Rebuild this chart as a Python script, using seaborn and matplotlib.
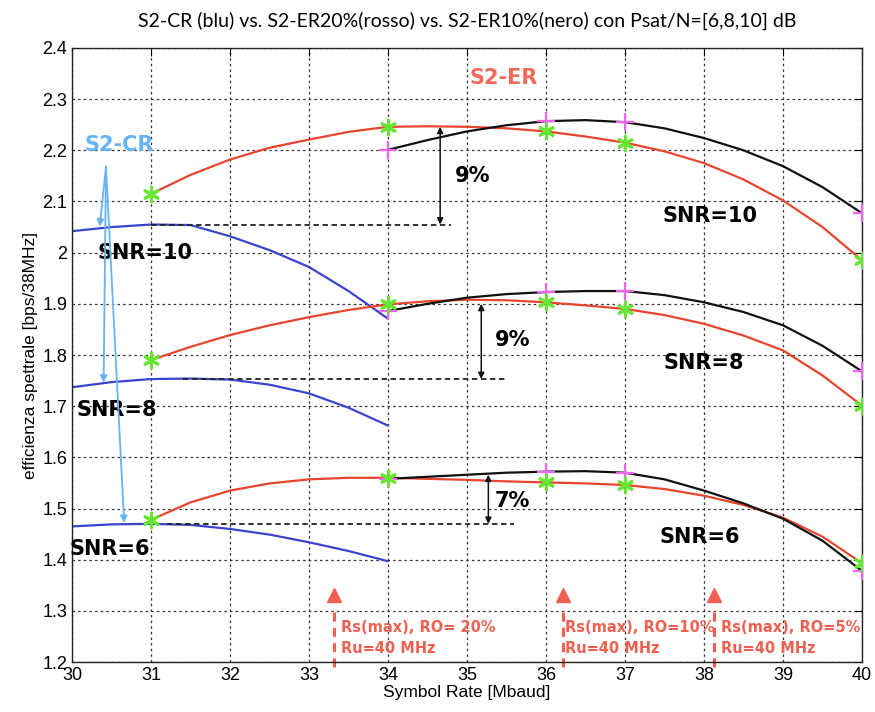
import numpy as np
import pandas as pd
import matplotlib
matplotlib.use("Agg")
import matplotlib.pyplot as plt
import seaborn as sns

sns.set_style("white")
plt.rcParams.update({"text.color": "black", "axes.labelcolor": "black",
                     "xtick.color": "black", "ytick.color": "black"})

# curve readings (x in Mbaud, y in bps/38MHz)
x_er = [31, 31.5, 32, 32.5, 33, 33.5, 34, 34.5, 35, 35.5, 36, 36.5, 37, 37.5, 38, 38.5, 39, 39.5, 40]
x_er10 = [34, 34.5, 35, 35.5, 36, 36.5, 37, 37.5, 38, 38.5, 39, 39.5, 40]
x_cr = [30, 30.5, 31, 31.5, 32, 32.5, 33, 33.5, 34]

red10 = [2.115, 2.152, 2.182, 2.205, 2.221, 2.236, 2.246, 2.247, 2.246, 2.243, 2.237, 2.227, 2.215, 2.198, 2.175, 2.143, 2.102, 2.050, 1.985]
red8 = [1.790, 1.816, 1.839, 1.858, 1.874, 1.888, 1.899, 1.905, 1.908, 1.907, 1.903, 1.897, 1.890, 1.878, 1.861, 1.838, 1.809, 1.760, 1.701]
red6 = [1.478, 1.512, 1.535, 1.549, 1.557, 1.560, 1.560, 1.558, 1.556, 1.553, 1.551, 1.549, 1.546, 1.538, 1.525, 1.507, 1.482, 1.445, 1.393]

black10 = [2.201, 2.220, 2.237, 2.249, 2.257, 2.259, 2.255, 2.243, 2.224, 2.200, 2.169, 2.128, 2.077]
black8 = [1.886, 1.900, 1.912, 1.919, 1.923, 1.925, 1.925, 1.917, 1.903, 1.884, 1.858, 1.818, 1.768]
black6 = [1.558, 1.562, 1.566, 1.570, 1.572, 1.573, 1.570, 1.557, 1.535, 1.510, 1.480, 1.437, 1.378]

blue10 = [2.042, 2.050, 2.055, 2.054, 2.032, 2.005, 1.972, 1.925, 1.871]
blue8 = [1.737, 1.747, 1.753, 1.754, 1.752, 1.742, 1.725, 1.697, 1.662]
blue6 = [1.465, 1.469, 1.470, 1.468, 1.460, 1.449, 1.434, 1.417, 1.397]

marks_er = [31, 34, 36, 37, 40]
marks_er10 = [34, 36, 37, 40]

rows = []
for snr, r, b, k in [(10, red10, blue10, black10), (8, red8, blue8, black8), (6, red6, blue6, black6)]:
    rows += [("ER20", snr, x, y) for x, y in zip(x_er, r)]
    rows += [("CR", snr, x, y) for x, y in zip(x_cr, b)]
    rows += [("ER10", snr, x, y) for x, y in zip(x_er10, k)]
df = pd.DataFrame(rows, columns=["sys", "snr", "rs", "eff"])
df["curve"] = df["sys"] + "_" + df["snr"].astype(str)

pal = {}
for s in [10, 8, 6]:
    pal[f"ER20_{s}"] = "#e8452e"
    pal[f"CR_{s}"] = "#3a44cc"
    pal[f"ER10_{s}"] = "#111111"

fig = plt.figure(figsize=(8.75, 7.12), dpi=100)
ax = fig.add_axes([0.0823, 0.0702, 0.9029, 0.8624])

sns.lineplot(data=df, x="rs", y="eff", hue="curve", palette=pal, sort=False,
             estimator=None, linewidth=1.6, legend=False, ax=ax)

green = df[(df.sys == "ER20") & df.rs.isin(marks_er)]
magenta = df[(df.sys == "ER10") & df.rs.isin(marks_er10)]
sns.scatterplot(data=magenta, x="rs", y="eff", marker="+", s=150, color="#ee66ee",
                linewidth=1.6, ax=ax, zorder=5)
sns.scatterplot(data=green, x="rs", y="eff", marker=(6, 2, 0), s=110, color="#66e633",
                linewidth=2.2, ax=ax, zorder=6)

# percent gap markers
gaps = [(10, 34.66, 2.246, 2.055, 31.0, 34.8, "9%", 34.85, 2.15),
        (8, 35.18, 1.900, 1.753, 31.4, 35.5, "9%", 35.35, 1.83),
        (6, 35.27, 1.566, 1.470, 31.2, 35.6, "7%", 35.35, 1.515)]
for snr, xa, ytop, ybot, x0, x1, lab, xt, yt in gaps:
    ax.plot([x0, x1], [ybot, ybot], color="#222222", ls=(0, (3, 2)), lw=1.3)
    ax.annotate("", xy=(xa, ybot), xytext=(xa, ytop),
                arrowprops=dict(arrowstyle="<|-|>", color="#111111", lw=1.1,
                                mutation_scale=9, shrinkA=0, shrinkB=0))
    ax.text(xt, yt, lab, fontsize=15, fontweight="bold", family="DejaVu Sans",
            va="center", ha="left")

snr_labels = [("SNR=10", 30.92, 2.0), ("SNR=8", 30.57, 1.693), ("SNR=6", 30.48, 1.421),
              ("SNR=10", 38.08, 2.072), ("SNR=8", 37.99, 1.785), ("SNR=6", 37.95, 1.445)]
for t, x, y in snr_labels:
    ax.text(x, y, t, fontsize=15, fontweight="bold", family="DejaVu Sans",
            ha="center", va="center")

ax.text(30.6, 2.21, "S2-CR", color="#66b3f5", fontsize=15, fontweight="bold",
        family="DejaVu Sans", ha="center", va="center")
ax.text(35.46, 2.341, "S2-ER", color="#ee6a5a", fontsize=15, fontweight="bold",
        family="DejaVu Sans", ha="center", va="center")

for xe, ye in [(30.35, 2.051), (30.4, 1.746), (30.66, 1.472)]:
    ax.annotate("", xy=(xe, ye), xytext=(30.43, 2.168),
                arrowprops=dict(arrowstyle="-|>", color="#66b3f5", lw=1.3,
                                mutation_scale=10, shrinkA=0, shrinkB=0))

# max symbol rate markers
rs_max = [(33.31, "Rs(max), RO= 20%", 33.4), (36.22, "Rs(max), RO=10%", 36.24), (38.13, "Rs(max), RO=5%", 38.22)]
for xm, lab, xt in rs_max:
    ax.plot([xm, xm], [1.19, 1.31], color="#f06050", ls=(0, (3, 2)), lw=2.2, clip_on=False)
    ax.plot([xm], [1.33], marker="^", ms=10, color="#f06050", mec="#f06050")
    ax.text(xt, 1.268, lab, color="#f06050", fontsize=10.5, fontweight="bold",
            family="DejaVu Sans", va="center", ha="left")
    ax.text(xt, 1.227, "Ru=40 MHz", color="#f06050", fontsize=10.5, fontweight="bold",
            family="DejaVu Sans", va="center", ha="left")

ax.set_xlim(30, 40)
ax.set_ylim(1.2, 2.4)
ax.set_xticks(np.arange(30, 41, 1))
ax.set_yticks(np.round(np.arange(1.2, 2.41, 0.1), 1))
ax.set_yticklabels([f"{v:g}" for v in np.round(np.arange(1.2, 2.41, 0.1), 1)])
ax.grid(True, linestyle=(0, (2, 2.5)), color="#333333", linewidth=0.9)
ax.tick_params(direction="in", top=True, right=True, length=6, labelsize=13)
for lbl in ax.get_xticklabels() + ax.get_yticklabels():
    lbl.set_family("Liberation Sans")
for sp in ax.spines.values():
    sp.set_color("#222222")
    sp.set_linewidth(1.0)

ax.set_xlabel("Symbol Rate [Mbaud]", fontsize=12.5, family="Liberation Sans", labelpad=1)
ax.set_ylabel("efficienza spettrale [bps/38MHz]", fontsize=12.5, family="Liberation Sans", labelpad=3)
ax.set_title("S2-CR (blu) vs. S2-ER20%(rosso) vs. S2-ER10%(nero) con Psat/N=[6,8,10] dB",
             fontsize=14, family="Lato", pad=15)

fig.savefig("out.png", dpi=100)
